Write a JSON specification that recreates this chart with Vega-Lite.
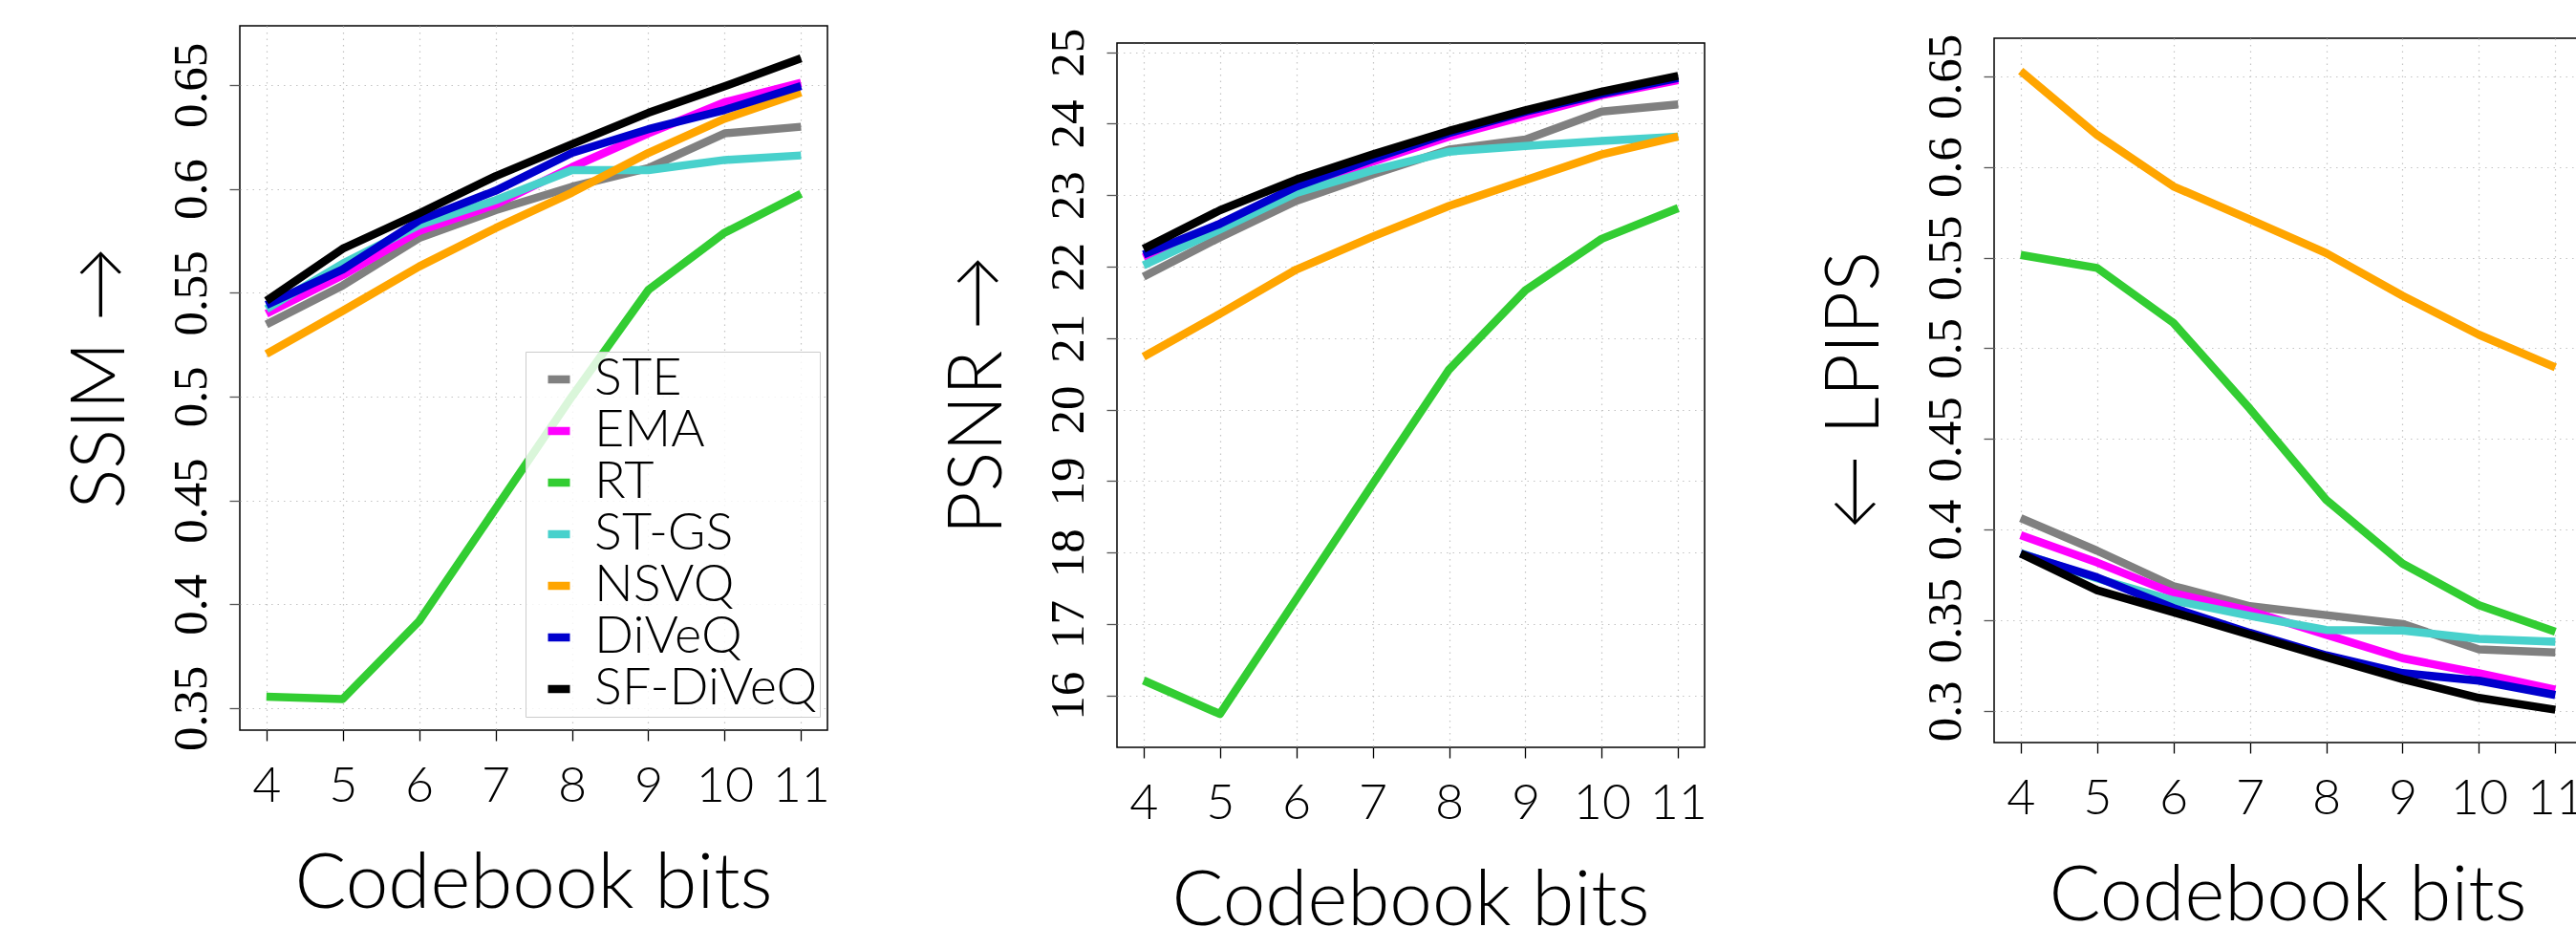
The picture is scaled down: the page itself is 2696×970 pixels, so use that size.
{
  "$schema": "https://vega.github.io/schema/vega-lite/v6.json",
  "background": "white",
  "padding": {"left": 66, "top": 26, "right": 0, "bottom": 0},
  "spacing": 114,
  "config": {
    "view": {"stroke": "black", "strokeWidth": 1.5},
    "axis": {
      "domain": false,
      "grid": true,
      "gridDash": [1.5, 5],
      "gridColor": "#c4c4c4",
      "gridWidth": 1.2,
      "tickSize": 11,
      "tickWidth": 1.3
    },
    "line": {"strokeWidth": 8.5, "strokeCap": "butt", "strokeJoin": "round"}
  },
  "datasets": {
    "ssim": [
      {"method": "STE", "bits": 4, "value": 0.5347}, {"method": "STE", "bits": 5, "value": 0.5535}, {"method": "STE", "bits": 6, "value": 0.5763}, {"method": "STE", "bits": 7, "value": 0.5897}, {"method": "STE", "bits": 8, "value": 0.601}, {"method": "STE", "bits": 9, "value": 0.61}, {"method": "STE", "bits": 10, "value": 0.6267}, {"method": "STE", "bits": 11, "value": 0.6299},
      {"method": "EMA", "bits": 4, "value": 0.5399}, {"method": "EMA", "bits": 5, "value": 0.5584}, {"method": "EMA", "bits": 6, "value": 0.5797}, {"method": "EMA", "bits": 7, "value": 0.5925}, {"method": "EMA", "bits": 8, "value": 0.6104}, {"method": "EMA", "bits": 9, "value": 0.6267}, {"method": "EMA", "bits": 10, "value": 0.6417}, {"method": "EMA", "bits": 11, "value": 0.6511},
      {"method": "RT", "bits": 4, "value": 0.3555}, {"method": "RT", "bits": 5, "value": 0.3544}, {"method": "RT", "bits": 6, "value": 0.3919}, {"method": "RT", "bits": 7, "value": 0.446}, {"method": "RT", "bits": 8, "value": 0.5}, {"method": "RT", "bits": 9, "value": 0.5513}, {"method": "RT", "bits": 10, "value": 0.5789}, {"method": "RT", "bits": 11, "value": 0.5976},
      {"method": "ST-GS", "bits": 4, "value": 0.5421}, {"method": "ST-GS", "bits": 5, "value": 0.564}, {"method": "ST-GS", "bits": 6, "value": 0.5826}, {"method": "ST-GS", "bits": 7, "value": 0.5945}, {"method": "ST-GS", "bits": 8, "value": 0.609}, {"method": "ST-GS", "bits": 9, "value": 0.609}, {"method": "ST-GS", "bits": 10, "value": 0.6139}, {"method": "ST-GS", "bits": 11, "value": 0.6161},
      {"method": "NSVQ", "bits": 4, "value": 0.5205}, {"method": "NSVQ", "bits": 5, "value": 0.5413}, {"method": "NSVQ", "bits": 6, "value": 0.5626}, {"method": "NSVQ", "bits": 7, "value": 0.5811}, {"method": "NSVQ", "bits": 8, "value": 0.5982}, {"method": "NSVQ", "bits": 9, "value": 0.6173}, {"method": "NSVQ", "bits": 10, "value": 0.6338}, {"method": "NSVQ", "bits": 11, "value": 0.6464},
      {"method": "DiVeQ", "bits": 4, "value": 0.5441}, {"method": "DiVeQ", "bits": 5, "value": 0.5612}, {"method": "DiVeQ", "bits": 6, "value": 0.5848}, {"method": "DiVeQ", "bits": 7, "value": 0.5991}, {"method": "DiVeQ", "bits": 8, "value": 0.6173}, {"method": "DiVeQ", "bits": 9, "value": 0.6287}, {"method": "DiVeQ", "bits": 10, "value": 0.638}, {"method": "DiVeQ", "bits": 11, "value": 0.6495},
      {"method": "SF-DiVeQ", "bits": 4, "value": 0.5461}, {"method": "SF-DiVeQ", "bits": 5, "value": 0.5712}, {"method": "SF-DiVeQ", "bits": 6, "value": 0.5882}, {"method": "SF-DiVeQ", "bits": 7, "value": 0.6061}, {"method": "SF-DiVeQ", "bits": 8, "value": 0.6215}, {"method": "SF-DiVeQ", "bits": 9, "value": 0.6366}, {"method": "SF-DiVeQ", "bits": 10, "value": 0.6494}, {"method": "SF-DiVeQ", "bits": 11, "value": 0.6629}
    ],
    "psnr": [
      {"method": "STE", "bits": 4, "value": 21.86}, {"method": "STE", "bits": 5, "value": 22.41}, {"method": "STE", "bits": 6, "value": 22.92}, {"method": "STE", "bits": 7, "value": 23.29}, {"method": "STE", "bits": 8, "value": 23.64}, {"method": "STE", "bits": 9, "value": 23.78}, {"method": "STE", "bits": 10, "value": 24.17}, {"method": "STE", "bits": 11, "value": 24.27},
      {"method": "EMA", "bits": 4, "value": 22.13}, {"method": "EMA", "bits": 5, "value": 22.6}, {"method": "EMA", "bits": 6, "value": 23.07}, {"method": "EMA", "bits": 7, "value": 23.47}, {"method": "EMA", "bits": 8, "value": 23.82}, {"method": "EMA", "bits": 9, "value": 24.11}, {"method": "EMA", "bits": 10, "value": 24.4}, {"method": "EMA", "bits": 11, "value": 24.61},
      {"method": "RT", "bits": 4, "value": 16.21}, {"method": "RT", "bits": 5, "value": 15.74}, {"method": "RT", "bits": 6, "value": 17.35}, {"method": "RT", "bits": 7, "value": 18.96}, {"method": "RT", "bits": 8, "value": 20.56}, {"method": "RT", "bits": 9, "value": 21.67}, {"method": "RT", "bits": 10, "value": 22.39}, {"method": "RT", "bits": 11, "value": 22.82},
      {"method": "ST-GS", "bits": 4, "value": 22.02}, {"method": "ST-GS", "bits": 5, "value": 22.52}, {"method": "ST-GS", "bits": 6, "value": 23.03}, {"method": "ST-GS", "bits": 7, "value": 23.35}, {"method": "ST-GS", "bits": 8, "value": 23.61}, {"method": "ST-GS", "bits": 9, "value": 23.69}, {"method": "ST-GS", "bits": 10, "value": 23.76}, {"method": "ST-GS", "bits": 11, "value": 23.82},
      {"method": "NSVQ", "bits": 4, "value": 20.74}, {"method": "NSVQ", "bits": 5, "value": 21.34}, {"method": "NSVQ", "bits": 6, "value": 21.96}, {"method": "NSVQ", "bits": 7, "value": 22.42}, {"method": "NSVQ", "bits": 8, "value": 22.85}, {"method": "NSVQ", "bits": 9, "value": 23.21}, {"method": "NSVQ", "bits": 10, "value": 23.57}, {"method": "NSVQ", "bits": 11, "value": 23.82},
      {"method": "DiVeQ", "bits": 4, "value": 22.17}, {"method": "DiVeQ", "bits": 5, "value": 22.6}, {"method": "DiVeQ", "bits": 6, "value": 23.12}, {"method": "DiVeQ", "bits": 7, "value": 23.51}, {"method": "DiVeQ", "bits": 8, "value": 23.87}, {"method": "DiVeQ", "bits": 9, "value": 24.17}, {"method": "DiVeQ", "bits": 10, "value": 24.42}, {"method": "DiVeQ", "bits": 11, "value": 24.64},
      {"method": "SF-DiVeQ", "bits": 4, "value": 22.25}, {"method": "SF-DiVeQ", "bits": 5, "value": 22.79}, {"method": "SF-DiVeQ", "bits": 6, "value": 23.22}, {"method": "SF-DiVeQ", "bits": 7, "value": 23.57}, {"method": "SF-DiVeQ", "bits": 8, "value": 23.9}, {"method": "SF-DiVeQ", "bits": 9, "value": 24.19}, {"method": "SF-DiVeQ", "bits": 10, "value": 24.45}, {"method": "SF-DiVeQ", "bits": 11, "value": 24.67}
    ],
    "lpips": [
      {"method": "STE", "bits": 4, "value": 0.4064}, {"method": "STE", "bits": 5, "value": 0.3884}, {"method": "STE", "bits": 6, "value": 0.3689}, {"method": "STE", "bits": 7, "value": 0.3578}, {"method": "STE", "bits": 8, "value": 0.3529}, {"method": "STE", "bits": 9, "value": 0.348}, {"method": "STE", "bits": 10, "value": 0.334}, {"method": "STE", "bits": 11, "value": 0.3323},
      {"method": "EMA", "bits": 4, "value": 0.3969}, {"method": "EMA", "bits": 5, "value": 0.3819}, {"method": "EMA", "bits": 6, "value": 0.365}, {"method": "EMA", "bits": 7, "value": 0.3552}, {"method": "EMA", "bits": 8, "value": 0.3421}, {"method": "EMA", "bits": 9, "value": 0.3291}, {"method": "EMA", "bits": 10, "value": 0.3209}, {"method": "EMA", "bits": 11, "value": 0.3118},
      {"method": "RT", "bits": 4, "value": 0.5515}, {"method": "RT", "bits": 5, "value": 0.5443}, {"method": "RT", "bits": 6, "value": 0.514}, {"method": "RT", "bits": 7, "value": 0.4667}, {"method": "RT", "bits": 8, "value": 0.4165}, {"method": "RT", "bits": 9, "value": 0.3813}, {"method": "RT", "bits": 10, "value": 0.3584}, {"method": "RT", "bits": 11, "value": 0.3437},
      {"method": "ST-GS", "bits": 4, "value": 0.3871}, {"method": "ST-GS", "bits": 5, "value": 0.3731}, {"method": "ST-GS", "bits": 6, "value": 0.361}, {"method": "ST-GS", "bits": 7, "value": 0.3525}, {"method": "ST-GS", "bits": 8, "value": 0.3447}, {"method": "ST-GS", "bits": 9, "value": 0.3444}, {"method": "ST-GS", "bits": 10, "value": 0.3398}, {"method": "ST-GS", "bits": 11, "value": 0.3382},
      {"method": "NSVQ", "bits": 4, "value": 0.6529}, {"method": "NSVQ", "bits": 5, "value": 0.6177}, {"method": "NSVQ", "bits": 6, "value": 0.5893}, {"method": "NSVQ", "bits": 7, "value": 0.5711}, {"method": "NSVQ", "bits": 8, "value": 0.5525}, {"method": "NSVQ", "bits": 9, "value": 0.529}, {"method": "NSVQ", "bits": 10, "value": 0.5075}, {"method": "NSVQ", "bits": 11, "value": 0.4895},
      {"method": "DiVeQ", "bits": 4, "value": 0.3868}, {"method": "DiVeQ", "bits": 5, "value": 0.3737}, {"method": "DiVeQ", "bits": 6, "value": 0.3568}, {"method": "DiVeQ", "bits": 7, "value": 0.3431}, {"method": "DiVeQ", "bits": 8, "value": 0.3307}, {"method": "DiVeQ", "bits": 9, "value": 0.3209}, {"method": "DiVeQ", "bits": 10, "value": 0.3167}, {"method": "DiVeQ", "bits": 11, "value": 0.3088},
      {"method": "SF-DiVeQ", "bits": 4, "value": 0.3868}, {"method": "SF-DiVeQ", "bits": 5, "value": 0.3666}, {"method": "SF-DiVeQ", "bits": 6, "value": 0.3545}, {"method": "SF-DiVeQ", "bits": 7, "value": 0.3421}, {"method": "SF-DiVeQ", "bits": 8, "value": 0.3297}, {"method": "SF-DiVeQ", "bits": 9, "value": 0.3176}, {"method": "SF-DiVeQ", "bits": 10, "value": 0.3072}, {"method": "SF-DiVeQ", "bits": 11, "value": 0.3007}
    ]
  },
  "resolve": {"scale": {"y": "independent"}, "legend": {"color": "independent"}},
  "hconcat": [
    {
      "width": 615, "height": 737,
      "data": {"name": "ssim"},
      "mark": {"type": "line"},
      "encoding": {
        "x": {"field": "bits", "type": "quantitative",
          "scale": {"domain": [3.652, 11.346], "nice": false, "zero": false},
          "axis": {"values": [4, 5, 6, 7, 8, 9, 10, 11], "tickColor": "black",
            "labelFont": "Lato", "labelFontWeight": 300, "labelFontSize": 52, "labelColor": "black", "labelPadding": 22, "labelFlush": false,
            "title": "Codebook bits", "titleFont": "Lato", "titleFontWeight": 300, "titleFontSize": 80, "titleColor": "black",
            "titleBaseline": "alphabetic", "titleX": 307, "titleY": 185}},
        "y": {"field": "value", "type": "quantitative",
          "scale": {"domain": [0.3394, 0.6785], "nice": false, "zero": false},
          "axis": {"values": [0.35, 0.4, 0.45, 0.5, 0.55, 0.6, 0.65], "format": "~g", "tickColor": "#555555",
            "labelAngle": -90, "labelAlign": "center", "labelBaseline": "alphabetic", "labelFont": "Liberation Serif", "labelFontSize": 51, "labelColor": "black", "labelPadding": 25, "labelFlush": false,
            "title": "SSIM →", "titleFont": "Lato", "titleFontWeight": 300, "titleFontSize": 78, "titleColor": "black",
            "titleAngle": -90, "titleAlign": "center", "titleBaseline": "alphabetic", "titleX": -122, "titleY": 368}},
        "color": {"field": "method", "type": "nominal",
          "scale": {"domain": ["STE", "EMA", "RT", "ST-GS", "NSVQ", "DiVeQ", "SF-DiVeQ"], "range": ["#808080", "#ff00ff", "#32cd32", "#48d1cc", "#ffa500", "#0000cd", "#000000"]},
          "legend": {"orient": "none", "legendX": 299, "legendY": 341, "title": null,
            "labelFont": "Lato", "labelFontWeight": 300, "labelFontSize": 54, "labelColor": "black", "labelLimit": 400,
            "symbolType": "stroke", "symbolStrokeWidth": 8, "symbolSize": 529, "symbolOffset": 6, "labelOffset": 10,
            "padding": 2, "rowPadding": 0, "fillColor": "rgba(255,255,255,0.82)", "strokeColor": "#cccccc"}}
      }
    },
    {
      "spacing": 0,
      "vconcat": [
        {"width": 615, "height": 1, "data": {"values": [{}]}, "mark": {"type": "rule", "opacity": 0}, "encoding": {}, "view": {"stroke": null}},
        {
          "width": 615, "height": 737,
          "data": {"name": "psnr"},
          "mark": {"type": "line"},
          "encoding": {
            "x": {"field": "bits", "type": "quantitative",
              "scale": {"domain": [3.652, 11.346], "nice": false, "zero": false},
              "axis": {"values": [4, 5, 6, 7, 8, 9, 10, 11], "tickColor": "black",
                "labelFont": "Lato", "labelFontWeight": 300, "labelFontSize": 52, "labelColor": "black", "labelPadding": 22, "labelFlush": false,
                "title": "Codebook bits", "titleFont": "Lato", "titleFontWeight": 300, "titleFontSize": 80, "titleColor": "black",
                "titleBaseline": "alphabetic", "titleX": 307, "titleY": 185}},
            "y": {"field": "value", "type": "quantitative",
              "scale": {"domain": [15.274, 25.13], "nice": false, "zero": false},
              "axis": {"values": [16, 17, 18, 19, 20, 21, 22, 23, 24, 25], "format": "~g", "tickColor": "#555555",
                "labelAngle": -90, "labelAlign": "center", "labelBaseline": "alphabetic", "labelFont": "Liberation Serif", "labelFontSize": 51, "labelColor": "black", "labelPadding": 25, "labelFlush": false,
                "title": "PSNR →", "titleFont": "Lato", "titleFontWeight": 300, "titleFontSize": 78, "titleColor": "black",
                "titleAngle": -90, "titleAlign": "center", "titleBaseline": "alphabetic", "titleX": -122, "titleY": 368}},
            "color": {"field": "method", "type": "nominal",
              "scale": {"domain": ["STE", "EMA", "RT", "ST-GS", "NSVQ", "DiVeQ", "SF-DiVeQ"], "range": ["#808080", "#ff00ff", "#32cd32", "#48d1cc", "#ffa500", "#0000cd", "#000000"]},
              "legend": null}
          }
        }
      ]
    },
    {
      "spacing": 6,
      "vconcat": [
        {"width": 615, "height": 1, "data": {"values": [{}]}, "mark": {"type": "rule", "opacity": 0}, "encoding": {}, "view": {"stroke": null}},
        {
          "width": 615, "height": 737,
          "data": {"name": "lpips"},
          "mark": {"type": "line"},
          "encoding": {
            "x": {"field": "bits", "type": "quantitative",
              "scale": {"domain": [3.652, 11.346], "nice": false, "zero": false},
              "axis": {"values": [4, 5, 6, 7, 8, 9, 10, 11], "tickColor": "black",
                "labelFont": "Lato", "labelFontWeight": 300, "labelFontSize": 52, "labelColor": "black", "labelPadding": 22, "labelFlush": false,
                "title": "Codebook bits", "titleFont": "Lato", "titleFontWeight": 300, "titleFontSize": 80, "titleColor": "black",
                "titleBaseline": "alphabetic", "titleX": 307, "titleY": 185}},
            "y": {"field": "value", "type": "quantitative",
              "scale": {"domain": [0.2826, 0.671], "nice": false, "zero": false},
              "axis": {"values": [0.3, 0.35, 0.4, 0.45, 0.5, 0.55, 0.6, 0.65], "format": "~g", "tickColor": "#555555",
                "labelAngle": -90, "labelAlign": "center", "labelBaseline": "alphabetic", "labelFont": "Liberation Serif", "labelFontSize": 51, "labelColor": "black", "labelPadding": 25, "labelFlush": false,
                "title": "← LPIPS", "titleFont": "Lato", "titleFontWeight": 300, "titleFontSize": 78, "titleColor": "black",
                "titleAngle": -90, "titleAlign": "center", "titleBaseline": "alphabetic", "titleX": -122, "titleY": 368}},
            "color": {"field": "method", "type": "nominal",
              "scale": {"domain": ["STE", "EMA", "RT", "ST-GS", "NSVQ", "DiVeQ", "SF-DiVeQ"], "range": ["#808080", "#ff00ff", "#32cd32", "#48d1cc", "#ffa500", "#0000cd", "#000000"]},
              "legend": null}
          }
        }
      ]
    }
  ]
}
